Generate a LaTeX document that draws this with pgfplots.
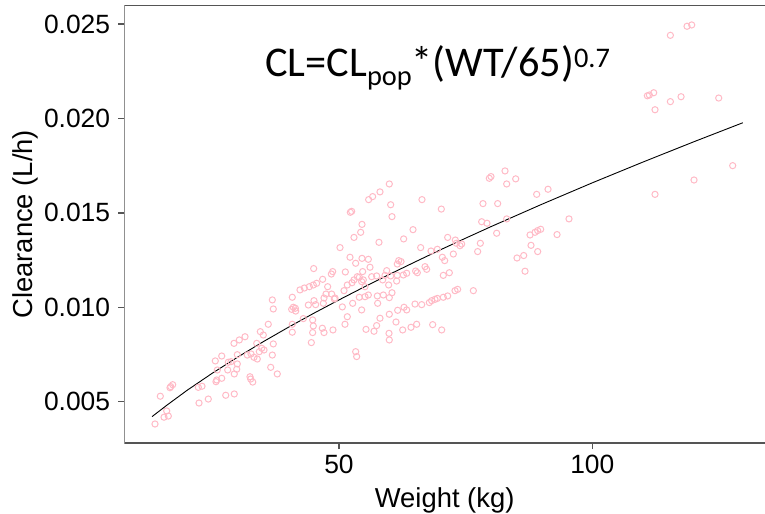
\documentclass[border=0pt]{standalone}
\usepackage{pgfplots}
\usepackage{pgfplotstable}
\pgfplotsset{compat=1.18}
\usepackage{fontspec}
\setmainfont{Liberation Sans}
\newfontfamily\calibri{Carlito}
\definecolor{ptpink}{RGB}{255,186,198}
\definecolor{axgray}{RGB}{85,85,85}

\pgfplotstableread{
W CL
13.68 0.00382
15.46 0.00418
16.31 0.00424
15.99 0.00451
14.73 0.00529
16.78 0.00580
17.17 0.00590
16.64 0.00574
22.37 0.00493
24.20 0.00514
22.23 0.00576
22.96 0.00582
25.58 0.00716
26.85 0.00742
25.98 0.00668
25.86 0.00615
25.72 0.00606
26.85 0.00624
27.64 0.00534
29.33 0.00541
28.15 0.00709
28.68 0.00712
28.03 0.00668
29.33 0.00647
29.81 0.00672
29.93 0.00700
29.93 0.00749
29.27 0.00809
30.32 0.00827
31.45 0.00844
31.90 0.00747
32.63 0.00753
32.43 0.00632
32.57 0.00620
32.97 0.00604
33.76 0.00809
34.47 0.00871
35.06 0.00853
33.22 0.00735
33.87 0.00726
34.27 0.00765
34.74 0.00783
35.20 0.00774
36.04 0.00910
36.84 0.00747
37.03 0.00806
36.52 0.00682
37.82 0.00647
36.84 0.01039
37.03 0.00991
40.78 0.01053
40.98 0.01000
41.38 0.00995
40.66 0.00989
41.45 0.00980
40.78 0.00910
40.78 0.00868
79.67 0.01683
80.00 0.01692
59.93 0.01653
58.09 0.01611
56.64 0.01586
55.85 0.01570
66.38 0.01570
78.42 0.01549
81.32 0.01549
60.20 0.01543
70.20 0.01520
52.50 0.01508
52.24 0.01503
60.46 0.01480
78.16 0.01453
79.21 0.01445
81.12 0.01392
54.54 0.01439
54.28 0.01397
52.96 0.01370
64.61 0.01411
57.89 0.01344
62.76 0.01362
71.45 0.01370
72.96 0.01356
73.16 0.01339
50.20 0.01316
66.12 0.01316
68.16 0.01298
69.41 0.01307
73.88 0.01326
74.21 0.01335
77.90 0.01339
77.37 0.01295
52.17 0.01265
54.54 0.01259
55.79 0.01254
53.29 0.01233
61.78 0.01247
62.24 0.01242
61.51 0.01229
70.40 0.01265
70.86 0.01247
72.57 0.01282
45.00 0.01205
48.75 0.01189
48.49 0.01176
51.25 0.01187
56.12 0.01212
54.67 0.01189
54.01 0.01159
52.96 0.01145
54.80 0.01145
59.41 0.01194
59.08 0.01169
60.20 0.01166
61.51 0.01169
62.70 0.01171
63.36 0.01180
65.13 0.01192
65.46 0.01183
66.98 0.01215
67.30 0.01201
70.59 0.01169
71.78 0.01183
42.30 0.01092
43.16 0.01102
44.14 0.01109
44.93 0.01118
45.59 0.01127
46.77 0.01148
47.76 0.01109
47.43 0.01070
48.55 0.01070
49.08 0.01044
47.04 0.01049
50.99 0.01088
51.64 0.01118
52.56 0.01130
53.62 0.01162
54.47 0.01136
55.13 0.01109
55.79 0.01065
56.45 0.01162
57.43 0.01166
58.62 0.01145
59.80 0.01118
60.46 0.01077
61.38 0.01139
57.57 0.01060
58.75 0.01065
59.93 0.01051
43.95 0.01012
45.06 0.01035
45.39 0.01014
46.91 0.01021
49.21 0.01049
50.66 0.01002
52.70 0.01021
54.01 0.01053
55.13 0.01056
57.63 0.01021
61.58 0.00984
62.83 0.01000
63.36 0.00986
65.00 0.01017
66.32 0.01014
67.83 0.01025
68.29 0.01035
68.95 0.01042
69.41 0.01047
70.59 0.01053
71.45 0.01060
72.90 0.01088
73.42 0.01095
76.52 0.01088
51.64 0.00950
54.47 0.00986
58.09 0.00942
59.93 0.00963
42.96 0.00940
44.80 0.00933
44.93 0.00901
46.71 0.00889
47.04 0.00866
48.81 0.00880
44.80 0.00866
51.18 0.00910
55.33 0.00883
56.91 0.00873
57.43 0.00903
61.25 0.00922
62.57 0.00880
64.21 0.00894
65.33 0.00910
68.49 0.00908
70.27 0.00880
59.87 0.00862
59.93 0.00827
44.54 0.00813
53.29 0.00765
53.49 0.00739
82.77 0.01722
84.88 0.01680
83.10 0.01653
89.02 0.01598
91.26 0.01625
83.10 0.01468
95.40 0.01468
87.71 0.01383
88.69 0.01397
89.22 0.01406
89.81 0.01413
93.04 0.01385
87.90 0.01328
89.22 0.01295
85.14 0.01261
86.46 0.01274
86.72 0.01191
115.41 0.02440
118.70 0.02488
119.62 0.02495
110.87 0.02120
111.26 0.02124
112.12 0.02136
112.38 0.02046
115.41 0.02089
117.52 0.02115
124.95 0.02108
127.71 0.01750
120.08 0.01674
112.38 0.01598
}\scatterdata

\pgfplotstableread{
W CL
13.1 0.00421
16 0.00481
20 0.00560
25 0.00651
30 0.00736
35 0.00817
40 0.00894
45 0.00968
50 0.01039
55 0.01108
60 0.01175
65 0.01240
70 0.01304
75 0.01366
80 0.01427
90 0.01545
100 0.01659
110 0.01769
120 0.01876
129.7 0.01977
}\curvedata

\begin{document}
\begin{tikzpicture}
\begin{axis}[
  name=ax,
  scale only axis,
  width=640.7bp, height=437.5bp,
  xmin=7.62, xmax=134.09,
  ymin=0.002813, ymax=0.02598,
  xtick={50,100},
  ytick={0.005,0.010,0.015,0.020,0.025},
  yticklabel style={/pgf/number format/fixed, /pgf/number format/precision=3, /pgf/number format/fixed zerofill},
  scaled y ticks=false,
  /pgf/number format/assume math mode=true,
  tick label style={font=\fontsize{26.5}{30}\selectfont, inner sep=0pt, text=black},
  xtick pos=lower, ytick pos=left,
  tick align=outside,
  major tick length=6bp,
  tick style={color=axgray, line width=1.3bp},
  yticklabel shift=8bp,
  xticklabel shift=6bp,
  axis line style={draw=none},
  xlabel={Weight (kg)},
  ylabel={Clearance (L/h)},
  label style={font=\fontsize{27.5}{30}\selectfont, inner sep=0pt},
  xlabel style={at={(rel axis cs:0.5,-0.1303)}, anchor=center},
  ylabel style={at={(rel axis cs:-0.155,0.5)}, anchor=center, rotate=0},
  clip=true,
]
\addplot[only marks, mark=o, mark size=3.1bp, mark options={draw=ptpink, line width=1bp}] table[x=W,y=CL] {\scatterdata};
\addplot[black, line width=0.9bp] table[x=W,y=CL] {\curvedata};
\draw[axgray, line width=1.3bp] (rel axis cs:1,1) -- (rel axis cs:0,1) -- (rel axis cs:0,0) -- (rel axis cs:1,0);
\node[anchor=base west, inner sep=0pt, font=\calibri\fontsize{42.5}{46}\selectfont] at (axis cs:35.4,0.022194)
  {CL=CL\raisebox{-9bp}{\fontsize{28.5}{30}\selectfont pop}*(WT/65)\raisebox{9bp}{\fontsize{28.5}{30}\selectfont 0.7}};
\end{axis}
\pgfresetboundingbox
\path ([xshift=-124.3bp,yshift=-71bp]ax.south west) rectangle ([yshift=5.5bp]ax.north east);
\end{tikzpicture}
\end{document}
